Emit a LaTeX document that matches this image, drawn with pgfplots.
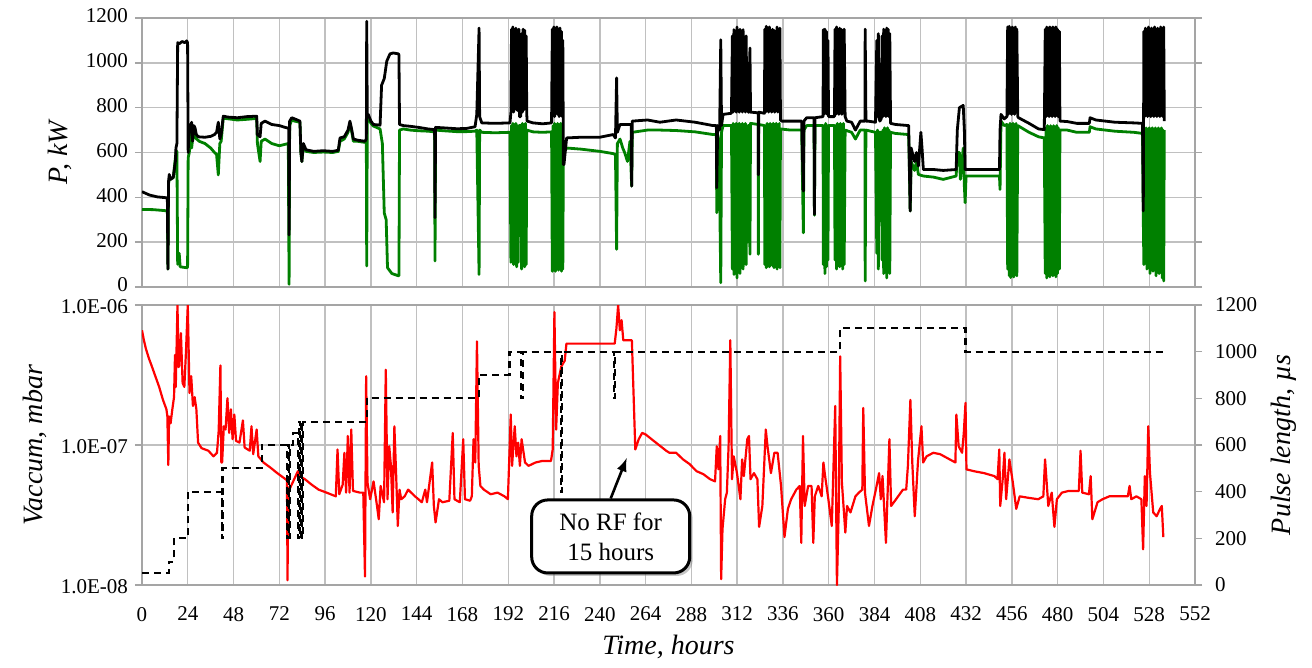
\documentclass[border=0pt]{standalone}
\usepackage{fontspec}
\setmainfont{Liberation Serif}
\usepackage{pgfplots}
\pgfplotsset{compat=1.18}
\usetikzlibrary{shadows}
\definecolor{pgreen}{RGB}{0,128,0}
\definecolor{gridgray}{RGB}{192,192,192}
\definecolor{framegray}{RGB}{165,165,165}
\pgfplotsset{
  panel/.style={
    scale only axis, width=526.5pt, xmin=0, xmax=552,
    xtick={0,24,...,552},
    axis line style={framegray, line width=0.8pt},
    grid style={gridgray, line width=0.7pt},
    xmajorgrids, ymajorgrids,
    tick style={framegray, line width=0.8pt},
    tick align=outside, major tick length=3.5pt,
    x tick style={draw=none},
    tick label style={font=\fontsize{10.5}{12}\selectfont},
    label style={font=\fontsize{14}{16}\selectfont\itshape},
    /pgf/number format/assume math mode=true,
    /pgf/number format/1000 sep={},
  },
}
\begin{document}
\begin{tikzpicture}
% ---- power ----
\begin{axis}[panel, at={(0,149pt)}, anchor=south west, height=134.5pt,
  ymin=0, ymax=1200, ytick={0,200,...,1200}, xticklabels={},
  yticklabel style={yshift=1pt},
  ylabel={P, kW}]
\addplot[pgreen, line width=1.4pt, line join=round] coordinates {
(0,346)(6,345)(12.9,340)(13.3,340)(13.6,80)(13.9,460)(14.3,480)(16.4,487)(17.8,600)(18.3,605)(18.7,101)(19.5,150)(20,90)(23.4,86)(23.9,88)(24.2,576)(24.8,600)(25.5,700)(26,620)(27,690)(28,665)(30,650)(33,640)(36,620)(38,600)(39.1,591)(40.0,500)(40.8,640)(41.5,650)(42.6,753)(50,745)(55,748)(60.1,752)(60.5,640)(61.9,560)(62.5,650)(64.5,660)(68,640)(72,630)(76.7,640)(77.1,12)(77.4,720)(78.5,745)(80,740)(82.8,735)(83.3,600)(83.8,560)(84.6,630)(86,605)(90,600)(95,602)(100,600)(102.9,605)(103.8,650)(106,660)(108,690)(109,730)(110,690)(110.8,650)(113,650)(116.9,645)(117.6,650)(117.8,94)(118.1,740)(118.6,753)(120,730)(121.3,718)(124.8,705)(126,640)(127,330)(128,300)(128.7,86)(131,60)(134.4,50)(134.7,50)(135.0,700)(137,705)(140.5,700)(145,697)(150,695)(153.4,692)(153.6,116)(153.9,700)(158,697)(165,693)(170,693)(174.6,695)(175.5,700)(176.7,56)(177,700)(178.1,690)(185,688)(192.9,690)
(193.4,110)(193.7,720)(194.0,120)(194.4,730)(194.8,100)(195.2,720)(195.6,130)(196.0,730)(196.4,90)(196.8,720)(197.2,110)(197.6,720)(198.5,720)(199.0,80)(199.4,730)(199.8,100)(200.2,720)(200.6,90)(201.0,730)(201.4,100)(201.7,700)
(205,692)(210,690)(214.7,692)
(215.1,70)(215.5,720)(215.9,90)(216.3,730)(216.7,70)(217.1,720)(217.5,80)(217.9,730)(218.3,75)(218.7,720)(219.1,90)(219.5,730)(219.9,70)(220.3,720)(220.6,80)(220.9,600)
(221.2,600)(222.6,620)(230,615)(240,605)(247,595)(248.2,590)(248.8,168)(249.2,640)(250.6,660)(252,620)(253,600)(254.5,560)(255.8,650)(256.7,450)(257.0,690)(265,700)(271.5,700)(280,698)(290,692)(299.4,680)(301.1,680)(301.3,331)(301.8,680)(302.5,650)(303.4,19)(303.8,690)(304.6,720)(309.0,720)
(309.5,80)(309.9,730)(310.3,56)(310.7,720)(311.1,100)(311.5,730)(311.9,40)(312.3,720)(312.7,90)(313.1,730)(313.5,60)(313.9,720)(314.3,110)(314.7,730)(315.1,80)(315.5,720)(315.9,150)(316.3,730)(316.7,100)(317.1,720)(317.5,200)(317.8,720)
(318.2,720)(318.7,146)(319.0,730)(323.0,725)(323.1,146)(323.3,725)(326.3,720)
(326.5,100)(326.9,720)(327.3,86)(327.7,730)(328.1,120)(328.5,720)(328.9,90)(329.3,730)(329.7,110)(330.1,720)(330.5,95)(330.9,730)(331.3,86)(331.7,720)(332.1,100)(332.5,730)(332.9,80)(333.3,720)(333.7,110)(334.1,730)(334.4,86)(334.7,705)
(340,700)(345.8,700)(346.7,242)(347.0,700)(348.4,720)(352.3,720)(352.5,320)(352.8,720)(357,720)
(357.2,100)(357.6,720)(358.0,60)(358.4,730)(358.8,90)(359.2,720)(359.6,120)(359.9,720)
(360.5,720)(363,720)
(363.3,120)(363.7,720)(364.1,80)(364.5,730)(364.9,100)(365.3,720)(365.7,90)(366.1,730)(366.5,110)(366.9,720)(367.3,80)(367.7,730)(368.1,100)(368.6,700)
(372,690)(374,660)(376.5,700)(379.0,700)(379.1,27)(379.5,700)(384.5,690)
(385.2,150)(385.6,700)(386.0,80)(386.4,690)(386.8,690)(387.5,690)(388.0,120)(388.4,700)(388.8,60)(389.2,710)(389.6,90)(390.0,700)(390.4,40)(390.8,710)(391.2,80)(391.6,700)(392.0,60)(392.4,690)
(395,685)(401.9,680)(402.7,339)(403.2,560)(405,520)(406,560)(407,502)(409.6,495)(415,490)(420,480)(426.8,495)(427.4,600)(428.5,600)(429,480)(430.5,620)(431.1,450)(431.5,376)(432,495)(440,495)(449.5,495)(449.8,435)(450.3,740)(452,720)(453.4,725)
(453.8,80)(454.2,720)(454.6,50)(455.0,730)(455.4,42)(455.8,720)(456.2,60)(456.6,730)(457.0,45)(457.4,720)(457.8,70)(458.2,730)(458.6,50)(459.1,720)
(465,690)(470,670)(473,665)
(473.5,60)(473.9,710)(474.3,40)(474.7,720)(475.1,70)(475.5,710)(475.9,45)(476.3,720)(476.7,60)(477.1,710)(477.5,50)(477.9,720)(478.3,70)(478.7,710)(479.1,45)(479.5,720)(479.9,60)(480.3,710)(480.9,80)(481.2,700)
(485,700)(490,690)(496.6,690)(497.0,715)(500,705)(510,695)(520,690)(524.5,685)
(524.9,300)(525.2,100)(525.6,700)(526.0,120)(526.4,710)(526.8,80)(527.2,700)(527.6,150)(528.0,710)(528.4,60)(528.8,700)(529.2,100)(529.6,710)(530.0,70)(530.4,700)(530.8,120)(531.2,710)(531.6,50)(532.0,700)(532.4,90)(532.8,710)(533.2,60)(533.6,700)(534.0,80)(534.4,710)(534.8,40)(535.2,700)(535.6,27)(535.9,700)
};
\addplot[black, line width=1.4pt, line join=round] coordinates {
(0,425)(4,410)(8,402)(12.9,398)(13.3,395)(13.6,80)(13.9,470)(14.3,502)(15,480)(16.4,490)(17.5,560)(17.8,620)(18.3,640)(18.7,1090)(19.5,1085)(21,1095)(22.5,1090)(23.4,1098)(23.9,1090)(24.2,600)(24.8,725)(25.5,700)(26,735)(26.5,650)(27.2,720)(27.8,710)(28.5,680)(29.5,670)(33,668)(36,672)(38,680)(39.1,690)(40.0,735)(40.8,660)(41.5,680)(42.6,762)(45,758)(50,755)(55,760)(60.1,762)(60.5,680)(61.9,670)(62.5,730)(64.5,740)(68,725)(72,720)(75,712)(76.9,708)(77.1,232)(77.4,740)(78.5,755)(80,750)(82.8,740)(83.3,600)(83.8,560)(84.6,640)(86,612)(90,605)(95,608)(100,605)(102.9,610)(103.8,665)(106,670)(108,700)(109,740)(110,700)(110.8,660)(113,655)(116.9,650)(117.6,660)(117.8,1185)(118.1,760)(118.6,770)(120,740)(121.3,725)(124.8,722)(125.6,900)(127,930)(128.3,1007)(130,1040)(131.7,1044)(134.4,1040)(134.7,1035)(135.0,725)(137,720)(140.5,717)(145,712)(150,705)(153.4,702)(153.6,309)(153.9,712)(158,710)(165,706)(170,707)(174.6,715)(175.5,770)(176.7,1155)(177,760)(178.1,732)(185,730)(192.9,732)
(193.4,780)(193.7,1150)(194.0,790)(194.4,1160)(194.8,780)(195.2,1140)(195.6,800)(196.0,1155)(196.4,790)(196.8,1100)(197.2,785)(197.6,1150)(197.9,760)(198.5,760)(199.0,1130)(199.4,780)(199.8,1150)(200.2,790)(200.6,1145)(201.0,800)(201.4,1120)(201.7,770)
(201.9,740)(205,732)(210,728)(214.7,732)
(215.1,1150)(215.5,770)(215.9,1160)(216.3,760)(216.7,1155)(217.1,780)(217.5,1160)(217.9,770)(218.3,1150)(218.7,760)(219.1,1155)(219.5,780)(219.9,1140)(220.3,760)(220.6,1100)(220.9,546)
(221.2,546)(222.6,665)(230,668)(240,668)(247,680)(248.2,665)(248.8,933)(249.2,690)(250.6,725)(255.8,725)(256.5,725)(256.7,450)(257.0,740)(265,745)(271.5,735)(280,745)(290,735)(299.4,720)(301.1,720)(301.3,443)(301.8,720)(302.8,700)(303.4,1103)(303.8,720)(304.6,770)(309.0,775)
(309.5,1120)(309.9,780)(310.3,1148)(310.7,790)(311.1,1140)(311.5,780)(311.9,1160)(312.3,790)(312.7,1130)(313.1,780)(313.5,1150)(313.9,790)(314.3,1110)(314.7,780)(315.1,1148)(315.5,790)(315.9,1060)(316.3,780)(316.7,1120)(317.1,790)(317.5,1000)(317.8,780)
(318.2,780)(318.7,1066)(319.0,780)(323.0,777)(323.1,500)(323.3,780)(326.3,775)
(326.5,1150)(326.9,780)(327.3,1163)(327.7,790)(328.1,1140)(328.5,780)(328.9,1160)(329.3,790)(329.7,1130)(330.1,780)(330.5,1150)(330.9,790)(331.3,1145)(331.7,780)(332.1,1130)(332.5,790)(332.9,1160)(333.3,780)(333.7,1150)(334.1,790)(334.4,1155)(334.7,745)
(335.3,740)(340,740)(345.8,740)(346.7,428)(347.0,740)(348.4,755)(352.3,755)(352.5,324)(352.8,755)(357,760)
(357.2,1148)(357.6,770)(358.0,1150)(358.4,780)(358.8,1140)(359.2,770)(359.6,1100)(359.9,760)
(360.5,760)(363,760)
(363.3,1150)(363.7,770)(364.1,1160)(364.5,780)(364.9,1148)(365.3,770)(365.7,1155)(366.1,780)(366.5,1150)(366.9,770)(367.3,1140)(367.7,780)(368.1,1150)(368.6,760)
(369.5,740)(372,735)(374,700)(376.5,740)(379.0,740)(379.1,1150)(379.5,740)(380.5,740)(384.5,735)
(385.2,1100)(385.6,760)(386.0,1130)(386.4,750)(386.8,740)(387.5,750)(388.0,1120)(388.4,760)(388.8,1150)(389.2,770)(389.6,1140)(390.0,760)(390.4,1155)(390.8,770)(391.2,1150)(391.6,760)(392.0,1130)(392.4,730)
(395,725)(401.9,720)(402.7,339)(403.2,620)(405,560)(406,600)(407,540)(408.3,690)(408.9,620)(409.6,524)(415,524)(420,520)(426.8,524)(427.4,700)(428.5,800)(430.5,810)(431.1,700)(431.5,524)(440,524)(449.5,524)(449.8,700)(450.3,770)(452,750)(453.4,760)
(453.8,1160)(454.2,770)(454.6,1163)(455.0,780)(455.4,1150)(455.8,770)(456.2,1160)(456.6,780)(457.0,1155)(457.4,770)(457.8,1160)(458.2,780)(458.6,1150)(459.1,760)
(459.5,755)(465,730)(470,705)(473.0,702)
(473.5,1150)(473.9,760)(474.3,1160)(474.7,770)(475.1,1155)(475.5,760)(475.9,1160)(476.3,770)(476.7,1150)(477.1,760)(477.5,1160)(477.9,770)(478.3,1155)(478.7,760)(479.1,1160)(479.5,770)(479.9,1150)(480.3,760)(480.9,1140)(481.2,740)
(485,738)(490,730)(496.6,730)(497.0,755)(500,745)(510,735)(520,732)(524.5,730)
(524.9,339)(525.2,1140)(525.6,760)(526.0,1155)(526.4,770)(526.8,1150)(527.2,760)(527.6,1160)(528.0,770)(528.4,1145)(528.8,760)(529.2,1155)(529.6,770)(530.0,1150)(530.4,760)(530.8,1160)(531.2,770)(531.6,1150)(532.0,760)(532.4,1155)(532.8,770)(533.2,1150)(533.6,760)(534.0,1160)(534.4,770)(534.8,1150)(535.2,760)(535.6,1160)(535.9,740)
};
\end{axis}
% ---- vacuum ----
\begin{axis}[panel, at={(0,0)}, anchor=south west, height=140pt,
  ymode=log, ymin=1e-8, ymax=1e-6, ytick={1e-8,1e-7,1e-6},
  yticklabels={1.0E-08,1.0E-07,1.0E-06}, minor tick length=0pt,
  yticklabel style={yshift=-1pt},
  xticklabel style={yshift=-4pt},
  xlabel={Time, hours}, ylabel={Vaccum, mbar}]
\addplot[red, line width=1.1pt, line join=round] coordinates {
(0,6.6e-7)(1,5.6e-7)(2,4.9e-7)(3.5,4.2e-7)(5,3.7e-7)(7,3.1e-7)(9,2.6e-7)(11,2.1e-7)(12.8,1.8e-7)(13.3,1.6e-7)(13.8,7.2e-8)(14.2,1.6e-7)(15.0,1.43e-7)(15.9,1.8e-7)(16.8,2.2e-7)(17.3,4.4e-7)(17.7,2.6e-7)(18.6,1.0e-6)(19.2,3.6e-7)(19.5,3.7e-7)(20.4,6.3e-7)(21.3,2.77e-7)(22.2,2.6e-7)(23.1,4.8e-7)(24.0,1.0e-6)(24.9,2.35e-7)(25.8,3.1e-7)(26.7,1.9e-7)(27.6,2.2e-7)(28.5,1.8e-7)(29.4,1.04e-7)(31.2,9.5e-8)(34.8,9.1e-8)(37.5,8.3e-8)(39.3,8.8e-8)(40.2,1.26e-7)(41.1,3.7e-7)(41.6,7.5e-8)(42.0,7.5e-8)(42.9,1.36e-7)(43.8,1.29e-7)(44.8,2.16e-7)(45.7,1.22e-7)(46.6,1.8e-7)(47.5,1.1e-7)(48.4,1.65e-7)(49.3,1.07e-7)(51.1,1.04e-7)(52.9,1.5e-7)(53.8,9.6e-8)(56.5,9.1e-8)(57.4,1.36e-7)(58.3,8.6e-8)(60.1,1.29e-7)(61.0,8.3e-8)(63.7,7.5e-8)(67.3,6.9e-8)(70.9,6.3e-8)(74.5,5.8e-8)(76.0,5.6e-8)(76.3,1.08e-8)(76.6,5.0e-8)(77.2,4.8e-8)(79.0,5.4e-8)(81.7,6.5e-8)(82.6,6.0e-8)(85.4,5.7e-8)(89.0,5.2e-8)(92.6,4.8e-8)(96.2,4.6e-8)(99.8,4.4e-8)(101.6,4.3e-8)(102.5,9.3e-8)(103.4,4.45e-8)(105.2,5.2e-8)(106.1,8.8e-8)(107.0,4.57e-8)(107.9,1.16e-7)(108.8,4.57e-8)(109.7,1.29e-7)(110.6,4.7e-8)(114.2,4.57e-8)(116.0,4.57e-8)(116.9,1.15e-8)(117.5,3.1e-7)(118.2,5.4e-8)(119.6,4.1e-8)(121.4,5.5e-8)(123.2,3.67e-8)(124.1,2.95e-8)(125.1,5.1e-8)(126.9,3.9e-8)(127.8,3.45e-7)(128.7,4.1e-8)(129.6,9.8e-8)(130.5,7.1e-8)(131.4,3.3e-8)(132.3,1.36e-7)(133.2,6.3e-8)(134.1,2.64e-8)(135.0,4.8e-8)(135.9,4.1e-8)(137.7,4.3e-8)(139.5,4.8e-8)(143.1,4.3e-8)(144.9,4.1e-8)(146.7,3.9e-8)(148.5,4.8e-8)(149.4,3.9e-8)(152.1,7.5e-8)(153.0,3.67e-8)(153.9,2.8e-8)(155.7,4.1e-8)(157.5,3.9e-8)(161.1,4.0e-8)(162.9,1.22e-7)(163.8,4.1e-8)(166.6,3.9e-8)(168.4,1.1e-7)(169.3,4.1e-8)(172.0,4.0e-8)(172.9,4.3e-8)(173.8,1.1e-7)(174.7,7.5e-8)(175.6,5.5e-7)(176.5,7.1e-8)(177.4,5.1e-8)(179.2,4.8e-8)(182.8,4.45e-8)(186.4,4.57e-8)(190.0,4.3e-8)(191.8,4.1e-8)(192.7,9.3e-8)(193.3,1.65e-7)(194.0,7.1e-8)(195.4,1.36e-7)(196.3,8.3e-8)(197.2,1.04e-7)(198.1,7.1e-8)(199.0,1.1e-7)(200.8,7.5e-8)(202.6,7.1e-8)(206.3,7.5e-8)(209.9,7.7e-8)(214.4,7.7e-8)(215.3,9.3e-8)(216.2,8.9e-7)(217.1,1.29e-7)(218.0,2.77e-7)(219.8,3.64e-7)(221.6,4.0e-7)(222.5,5.3e-7)(247.8,5.3e-7)(248.7,6.8e-7)(249.6,1.0e-6)(250.5,6.6e-7)(251.4,7.8e-7)(252.3,5.6e-7)(256.8,5.6e-7)(258.6,9.3e-8)(260.4,1.1e-7)(262.2,1.22e-7)(264.0,1.19e-7)(269.4,1.04e-7)(274.8,9.1e-8)
(276.5,8.8e-8)(280.0,8.8e-8)(283.6,7.9e-8)(287.1,7.3e-8)(290.7,6.5e-8)(294.2,6.2e-8)(297.8,5.7e-8)(300.4,5.5e-8)(301.3,9.8e-8)(302.2,6.7e-8)(303.1,1.16e-7)(303.6,1.1e-8)(304.3,2.5e-8)(305.7,4.1e-8)(306.6,4.57e-8)(307.5,9.8e-8)(308.4,5.6e-7)(309.3,5.7e-8)(310.2,8.3e-8)(311.9,6.3e-8)(313.7,4.1e-8)(314.6,7.9e-8)(315.5,6.0e-8)(317.3,1.1e-7)(318.2,1.16e-7)(319.0,5.7e-8)(320.8,6.3e-8)(322.6,5.7e-8)(323.5,2.6e-8)(325.2,3.67e-8)(327.0,1.29e-7)(327.9,9.8e-8)(329.7,6.3e-8)(331.5,8.8e-8)(333.2,8.8e-8)(335.0,5.1e-8)(336.8,2.2e-8)(338.6,3.5e-8)(340.3,4.1e-8)(343.0,4.8e-8)(344.8,5.1e-8)(345.6,2.0e-8)(346.5,1.16e-7)(347.4,3.67e-8)(349.2,5.1e-8)(351.0,5.1e-8)(351.9,2.0e-8)(352.7,4.3e-8)(354.5,5.1e-8)(356.3,4.3e-8)(357.2,7.5e-8)(358.1,6.0e-8)(359.8,4.1e-8)(361.6,2.64e-8)(363.4,1.9e-7)(364.3,1.0e-8)(365.2,3.3e-8)(366.0,4.3e-7)(366.9,5.4e-8)(368.7,2.37e-8)(369.6,3.67e-8)(371.4,3.3e-8)(374.0,4.3e-8)(375.8,4.57e-8)(377.6,4.8e-8)(378.1,1.84e-7)(379.0,4.57e-8)(381.1,2.64e-8)(382.9,3.67e-8)(384.7,4.8e-8)(386.4,6.3e-8)(387.3,4.1e-8)(388.2,6.0e-8)(390.0,2.0e-8)(391.8,1.1e-7)(392.7,3.67e-8)(395.3,4.1e-8)(398.9,4.8e-8)(400.6,4.8e-8)(401.5,7.1e-8)(402.8,2.1e-7)(403.8,7.5e-8)(405.1,3.1e-8)(406.8,7.7e-8)(408.6,1.36e-7)(409.5,7.5e-8)(411.3,8.3e-8)(414.8,8.8e-8)(418.4,8.6e-8)(421.9,8.1e-8)(426.4,7.5e-8)(426.9,1.65e-7)(428.1,9.8e-8)(429.9,8.8e-8)(430.8,1.22e-7)(431.7,2.0e-7)(432.2,6.7e-8)(436.1,6.5e-8)(441.4,6.3e-8)(446.8,6.0e-8)(448.5,5.7e-8)(449.4,9.3e-8)(449.9,3.67e-8)(451.2,5.7e-8)(452.1,8.8e-8)(453.0,4.1e-8)(454.7,7.9e-8)(456.5,5.4e-8)(458.3,3.5e-8)(460.1,4.3e-8)(464.5,4.2e-8)(469.8,4.1e-8)(472.5,4.3e-8)(473.4,7.9e-8)(475.1,3.67e-8)(476.9,4.57e-8)(478.3,2.6e-8)(479.6,4.1e-8)(482.2,4.57e-8)(485.8,4.7e-8)(491.1,4.7e-8)(492.0,9.1e-8)(492.9,4.57e-8)(496.4,4.45e-8)(497.3,6.0e-8)(498.2,2.95e-8)(500.9,3.9e-8)(503.5,4.1e-8)(507.1,4.3e-8)(516.8,4.3e-8)(517.7,5.1e-8)(518.6,4.1e-8)(521.3,4.3e-8)(523.9,4.1e-8)(524.8,1.8e-8)(525.7,6.0e-8)(526.6,3.67e-8)(527.5,1.36e-7)(528.4,6.3e-8)(530.1,3.3e-8)(531.9,3.1e-8)(533.7,3.5e-8)(534.6,3.67e-8)(535.4,2.2e-8)
};
\end{axis}
% ---- pulse length ----
\begin{axis}[panel, at={(0,0)}, anchor=south west, height=140pt,
  axis x line=none, axis y line*=right, xmajorgrids=false, ymajorgrids=false,
  ymin=0, ymax=1200, ytick={0,200,...,1200},
  yticklabel style={xshift=3pt},
  ylabel={Pulse length, µs}]
\addplot[black, line width=1.1pt, dash pattern=on 3.5pt off 2.5pt] coordinates {
(0,50)(14.1,50)(14.1,100)(16.8,100)(16.8,200)(24.0,200)(24.0,400)(41.8,400)(41.8,200)(42.2,200)(42.2,500)(62.8,500)(62.8,600)(75.9,600)(75.9,200)(76.4,200)(76.4,600)(76.9,600)(76.9,200)(77.4,200)(77.4,600)(79.3,600)(79.3,650)(81.9,650)(81.9,200)(82.4,200)(82.4,700)(82.9,700)(82.9,200)(83.4,200)(83.4,700)(83.9,700)(83.9,200)(84.4,200)(84.4,700)(117.8,700)(117.8,800)(176.5,800)(176.5,900)(192.7,900)(192.7,1000)(198.8,1000)(198.8,800)(199.8,800)(199.8,1000)(219.6,1000)(219.6,400)(220.0,400)(220.0,1000)(247.6,1000)(247.6,800)(248.0,800)(248.0,1000)(366.0,1000)(366.0,1100)(431.7,1100)(431.7,1000)(535.4,1000)
};
\node[draw=black, line width=1.5pt, rounded corners=8pt, fill=white,
  drop shadow={opacity=0.45, shadow xshift=1.5pt, shadow yshift=-1.5pt},
  minimum width=79pt, minimum height=36.5pt, align=center,
  font=\fontsize{12.5}{15}\selectfont] (nb) at (245.7,208) {No RF for\\15 hours};
\draw[-latex, line width=1.3pt] (nb.north) -- (254.1,544);
\end{axis}
\pgfresetboundingbox
\useasboundingbox (-71pt,-41.5pt) rectangle (585pt,292.5pt);
\end{tikzpicture}
\end{document}
